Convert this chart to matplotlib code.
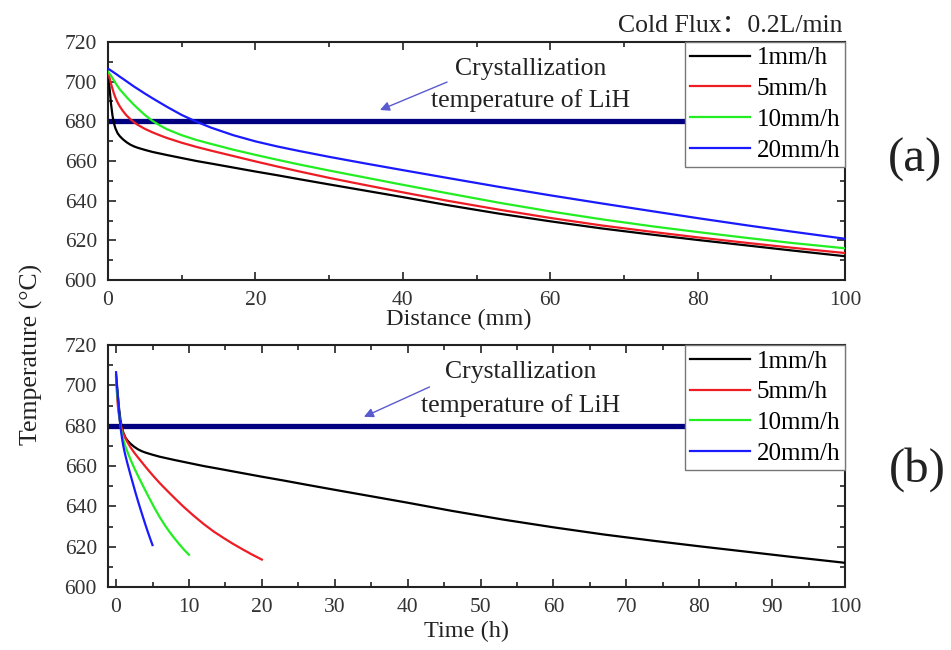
import matplotlib.pyplot as plt
from matplotlib.ticker import MultipleLocator

plt.rcParams['font.family'] = ['Liberation Serif', 'Noto Sans CJK SC']

# distance along the ingot (mm), common grid for the four pulling rates
distance = [0, 0.2, 0.4, 0.6, 0.8, 1, 1.3, 1.6, 2, 2.5, 3, 3.5, 4, 5, 6, 7, 8, 10, 12, 14,
            17, 20, 23, 26, 30, 35, 40, 46, 53, 60, 67, 74, 80, 87, 93, 100]
temp_1 = [704, 697, 689, 683, 679, 676.5, 674, 672.5, 671, 669.5, 668.3, 667.4, 666.7, 665.6,
          664.6, 663.8, 663, 661.5, 660, 658.7, 656.7, 654.7, 652.8, 650.8, 648.2, 645, 641.8,
          637.8, 633.5, 629.6, 626, 622.8, 620.2, 617.3, 614.8, 612]
temp_5 = [705, 702, 699, 696.5, 694, 692, 689.5, 687.5, 685.3, 683, 681.2, 679.6, 678.3, 676.2,
          674.5, 673, 671.6, 669.2, 667.1, 665.2, 662.5, 659.8, 657.2, 654.7, 651.5, 647.8,
          644.2, 640, 635.5, 631.3, 627.5, 624.2, 621.5, 618.6, 616.2, 613.6]
temp_10 = [705, 704, 703, 701.8, 700.6, 699.4, 697.7, 696.1, 694.4, 692.3, 690.3, 688.4, 686.6,
           683.2, 680.3, 678, 676, 673, 670.6, 668.6, 665.7, 663.1, 660.6, 658.2, 655.2, 651.6,
           648, 643.8, 639, 634.6, 630.6, 627, 624.2, 621.1, 618.6, 616]
temp_20 = [706.5, 706.1, 705.6, 705.1, 704.6, 704.1, 703.3, 702.5, 701.5, 700.2, 698.9, 697.6,
           696.4, 694, 691.7, 689.5, 687.3, 683.2, 679.8, 676.8, 673, 669.9, 667.3, 665,
           662.1, 658.7, 655.4, 651.5, 647, 642.7, 638.6, 634.6, 631.2, 627.4, 624.3, 620.8]

# time (h) for the same points at each pulling rate
time_1 = [0, 0.2, 0.4, 0.6, 0.8, 1, 1.3, 1.6, 2, 2.5, 3, 3.5, 4, 5, 6, 7, 8, 10, 12, 14,
          17, 20, 23, 26, 30, 35, 40, 46, 53, 60, 67, 74, 80, 87, 93, 100]
time_5 = [0, 0.04, 0.08, 0.12, 0.16, 0.2, 0.26, 0.32, 0.4, 0.5, 0.6, 0.7, 0.8, 1, 1.2, 1.4,
          1.6, 2, 2.4, 2.8, 3.4, 4, 4.6, 5.2, 6, 7, 8, 9.2, 10.6, 12, 13.4, 14.8, 16, 17.4,
          18.6, 20]
time_10 = [0, 0.02, 0.04, 0.06, 0.08, 0.1, 0.13, 0.16, 0.2, 0.25, 0.3, 0.35, 0.4, 0.5, 0.6,
           0.7, 0.8, 1, 1.2, 1.4, 1.7, 2, 2.3, 2.6, 3, 3.5, 4, 4.6, 5.3, 6, 6.7, 7.4, 8, 8.7,
           9.3, 10]
time_20 = [0, 0.01, 0.02, 0.03, 0.04, 0.05, 0.065, 0.08, 0.1, 0.125, 0.15, 0.175, 0.2, 0.25,
           0.3, 0.35, 0.4, 0.5, 0.6, 0.7, 0.85, 1, 1.15, 1.3, 1.5, 1.75, 2, 2.3, 2.65, 3, 3.35,
           3.7, 4, 4.35, 4.65, 5]

labels = ['1mm/h', '5mm/h', '10mm/h', '20mm/h']
colors = ['black', '#ee1c24', '#22ee22', '#1a1aff']
cryst_temp = 680

fig = plt.figure(figsize=(9.51, 6.5), dpi=100)
ax1 = fig.add_axes([0.1136, 0.5692, 0.775, 0.3662])
ax2 = fig.add_axes([0.1136, 0.0969, 0.775, 0.3723])


def style_axis(ax, xmin, major, minor):
    ax.set_xlim(xmin, 100)
    ax.set_ylim(600, 720)
    ax.xaxis.set_major_locator(MultipleLocator(major))
    ax.xaxis.set_minor_locator(MultipleLocator(minor))
    ax.yaxis.set_major_locator(MultipleLocator(20))
    ax.yaxis.set_minor_locator(MultipleLocator(10))
    ax.tick_params(which='both', direction='in', top=True, right=True,
                   labelsize=15.5, labelcolor='#333333', color='#222222', width=1.2)
    ax.tick_params(which='major', length=6, pad=8)
    ax.tick_params(which='minor', length=3.5)
    for s in ax.spines.values():
        s.set_linewidth(1.5)
        s.set_color('#222222')


def add_legend(ax):
    leg = ax.legend(loc='upper right', bbox_to_anchor=(1.0, 1.0), borderaxespad=0,
                    fontsize=18, handlelength=2.4, handletextpad=0.24,
                    labelspacing=0.33, borderpad=0.2, fancybox=False,
                    framealpha=1, edgecolor='#777777')
    leg.get_frame().set_linewidth(1.0)
    leg.set_zorder(5)


# (a) temperature vs distance
ax1.axhline(cryst_temp, color='#000080', lw=3.8, zorder=2)
for y, lab, c in zip([temp_1, temp_5, temp_10, temp_20], labels, colors):
    ax1.plot(distance, y, color=c, lw=1.6, label=lab, zorder=3)
style_axis(ax1, 0, 20, 10)
add_legend(ax1)
ax1.set_xlabel('Distance (mm)', fontsize=17.5, color='#222222')
ax1.xaxis.set_label_coords(0.476, -0.12)
ax1.text(57.3, 706.5, 'Crystallization', ha='center', va='center', fontsize=18.5, color='#222222')
ax1.text(57.3, 690.3, 'temperature of LiH', ha='center', va='center', fontsize=18.5, color='#222222')
ax1.annotate('', xy=(36.9, 685.7), xytext=(46, 699.8),
             arrowprops=dict(arrowstyle='-|>', color='#5a5ad0', lw=1.0,
                             mutation_scale=14, shrinkA=0, shrinkB=0))

# (b) temperature vs time
ax2.axhline(cryst_temp, color='#000080', lw=3.8, zorder=2)
for t, y, lab, c in zip([time_1, time_5, time_10, time_20],
                        [temp_1, temp_5, temp_10, temp_20], labels, colors):
    ax2.plot(t, y, color=c, lw=1.6, label=lab, zorder=3)
style_axis(ax2, -1.1, 10, 5)
add_legend(ax2)
ax2.set_xlabel('Time (h)', fontsize=17.5, color='#222222')
ax2.xaxis.set_label_coords(0.486, -0.14)
ax2.text(55.5, 706.5, 'Crystallization', ha='center', va='center', fontsize=18.5, color='#222222')
ax2.text(55.5, 690.0, 'temperature of LiH', ha='center', va='center', fontsize=18.5, color='#222222')
ax2.annotate('', xy=(34.0, 684.4), xytext=(43, 699.2),
             arrowprops=dict(arrowstyle='-|>', color='#5a5ad0', lw=1.0,
                             mutation_scale=14, shrinkA=0, shrinkB=0))

fig.text(0.0326, 0.454, 'Temperature (°C)', rotation=90, ha='center', va='center',
         fontsize=18.5, color='#222222')
fig.text(843 / 951, 1 - 26 / 650, 'Cold Flux：0.2L/min', ha='right', va='center',
         fontsize=18.5, color='#222222')
fig.text(915 / 951, 1 - 160 / 650, '(a)', ha='center', va='center', fontsize=35, color='#222222')
fig.text(917 / 951, 1 - 470 / 650, '(b)', ha='center', va='center', fontsize=35, color='#222222')

fig.savefig('out.png', dpi=100, facecolor='white')
